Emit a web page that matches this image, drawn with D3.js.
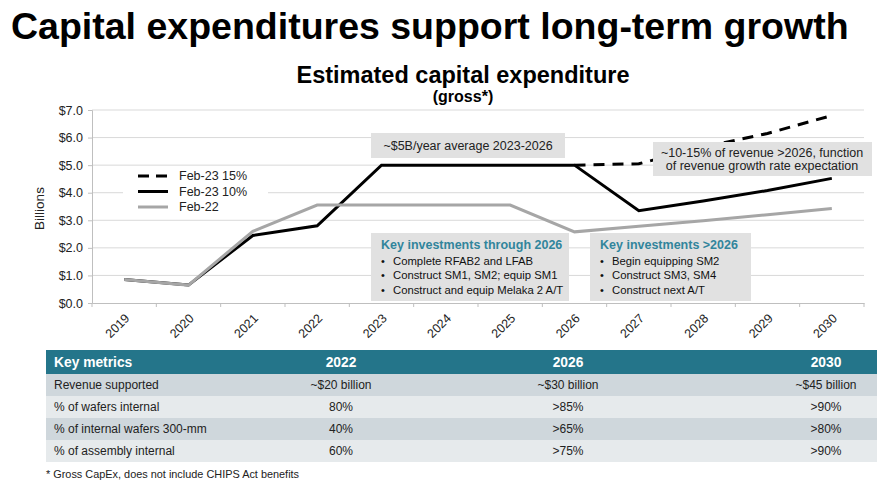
<!DOCTYPE html>
<html>
<head>
<meta charset="utf-8">
<script src="https://cdn.jsdelivr.net/npm/d3@7"></script>
<style>
  body { margin: 0; background: #fff; }
  text { font-family: "Liberation Sans", Arial, sans-serif; }
</style>
</head>
<body>
<div id="chart"></div>
<script>
// data
let years = ['2019', '2020', '2021', '2022', '2023', '2024', '2025', '2026', '2027', '2028', '2029', '2030'];
let feb23_15 = [null, null, null, null, null, null, null, 5.0, 5.05, 5.65, 6.15, 6.8];
let feb23_10 = [0.85, 0.65, 2.45, 2.8, 5.0, 5.0, 5.0, 5.0, 3.35, 3.7, 4.08, 4.52];
let feb22 = [0.85, 0.65, 2.6, 3.55, 3.55, 3.55, 3.55, 2.58, 2.78, 2.98, 3.2, 3.43];
let yTicks = [0, 1, 2, 3, 4, 5, 6, 7];

let tableHeader = ['Key metrics', '2022', '2026', '2030'];
let tableRows = [
  ['Revenue supported', '~$20 billion', '~$30 billion', '~$45 billion'],
  ['% of wafers internal', '80%', '>85%', '>90%'],
  ['% of internal wafers 300-mm', '40%', '>65%', '>80%'],
  ['% of assembly internal', '60%', '>75%', '>90%']
];
let investThrough = ['Complete RFAB2 and LFAB', 'Construct SM1, SM2; equip SM1', 'Construct and equip Melaka 2 A/T'];
let investAfter = ['Begin equipping SM2', 'Construct SM3, SM4', 'Construct next A/T'];

let svgWidth = 888;
let svgHeight = 480;

let margin = { top: 110, left: 92 };
let width = 772;
let height = 193;

let svg = d3.select('#chart')
  .append('svg')
  .attr('width', svgWidth)
  .attr('height', svgHeight);

// titles
svg.append('text')
  .attr('x', 11)
  .attr('y', 39)
  .attr('font-size', 37.5)
  .attr('font-weight', 700)
  .attr('fill', '#000')
  .text('Capital expenditures support long-term growth');

svg.append('text')
  .attr('x', 463)
  .attr('y', 83)
  .attr('text-anchor', 'middle')
  .attr('font-size', 23.5)
  .attr('font-weight', 700)
  .text('Estimated capital expenditure');

svg.append('text')
  .attr('x', 463)
  .attr('y', 102)
  .attr('text-anchor', 'middle')
  .attr('font-size', 16)
  .attr('font-weight', 700)
  .text('(gross*)');

let chartGroup = svg.append('g')
  .attr('transform', `translate(${margin.left}, ${margin.top})`);

let x = d3.scaleBand()
  .domain(years)
  .range([0, width]);

let y = d3.scaleLinear()
  .domain([0, 7])
  .range([height, 0]);

// gridlines
chartGroup.append('g')
  .selectAll('line')
  .data(yTicks.slice(1))
  .enter()
  .append('line')
  .attr('x1', 0)
  .attr('x2', width)
  .attr('y1', d => y(d))
  .attr('y2', d => y(d))
  .attr('stroke', '#d9d9d9')
  .attr('stroke-width', 1);

// y axis
let leftAxis = d3.axisLeft(y)
  .tickValues(yTicks)
  .tickFormat(d => '$' + d.toFixed(1))
  .tickSize(4)
  .tickPadding(5);

let yAxis = chartGroup.append('g').call(leftAxis);
yAxis.select('.domain').attr('stroke', '#bfbfbf');
yAxis.selectAll('.tick line').attr('stroke', '#bfbfbf');
yAxis.selectAll('text')
  .attr('font-size', 12.5)
  .attr('fill', '#222');

// x axis: labels at band centers, ticks at band edges
let bottomAxis = d3.axisBottom(x).tickSize(0);
let xAxis = chartGroup.append('g')
  .attr('transform', `translate(0,${height})`)
  .call(bottomAxis);
xAxis.select('.domain').attr('stroke', '#bfbfbf');
xAxis.selectAll('text')
  .attr('x', 0)
  .attr('y', 0)
  .attr('dy', '0.35em')
  .attr('text-anchor', 'end')
  .attr('transform', 'translate(3,13) rotate(-45)')
  .attr('font-size', 12.5)
  .attr('fill', '#222');

let edges = years.map(d => x(d)).concat([width]);
xAxis.selectAll('.edge')
  .data(edges)
  .enter()
  .append('line')
  .attr('x1', d => d)
  .attr('x2', d => d)
  .attr('y1', 0)
  .attr('y2', 4)
  .attr('stroke', '#bfbfbf');

chartGroup.append('text')
  .attr('transform', 'rotate(-90)')
  .attr('x', -(height / 2) - 2)
  .attr('y', -48)
  .attr('text-anchor', 'middle')
  .attr('font-size', 13.5)
  .attr('fill', '#222')
  .text('Billions');

// lines
let line = d3.line()
  .defined(d => d != null)
  .x((d, i) => x(years[i]) + x.bandwidth() / 2)
  .y(d => y(d));

chartGroup.append('path')
  .datum(feb23_15)
  .attr('d', line)
  .attr('fill', 'none')
  .attr('stroke', '#000')
  .attr('stroke-width', 3)
  .attr('stroke-dasharray', '11,8');

chartGroup.append('path')
  .datum(feb23_10)
  .attr('d', line)
  .attr('fill', 'none')
  .attr('stroke', '#000')
  .attr('stroke-width', 3);

chartGroup.append('path')
  .datum(feb22)
  .attr('d', line)
  .attr('fill', 'none')
  .attr('stroke', '#a6a6a6')
  .attr('stroke-width', 3);

// legend
let legend = svg.append('g');
legend.append('rect')
  .attr('x', 123)
  .attr('y', 168)
  .attr('width', 145)
  .attr('height', 46)
  .attr('fill', '#fff');

let legendItems = [
  { label: 'Feb-23 15%', color: '#000', dash: '11,7' },
  { label: 'Feb-23 10%', color: '#000', dash: null },
  { label: 'Feb-22', color: '#a6a6a6', dash: null }
];
legendItems.forEach(function(item, i) {
  let ly = 176 + i * 15.5;
  legend.append('line')
    .attr('x1', 138)
    .attr('x2', 168)
    .attr('y1', ly)
    .attr('y2', ly)
    .attr('stroke', item.color)
    .attr('stroke-width', 3)
    .attr('stroke-dasharray', item.dash);
  legend.append('text')
    .attr('x', 179)
    .attr('y', ly)
    .attr('dy', '0.35em')
    .attr('font-size', 12.5)
    .attr('fill', '#222')
    .text(item.label);
});

// annotation boxes
let boxFill = '#e1e1e1';

svg.append('rect')
  .attr('x', 371).attr('y', 133)
  .attr('width', 194).attr('height', 25)
  .attr('fill', boxFill);
svg.append('text')
  .attr('x', 468).attr('y', 146)
  .attr('dy', '0.35em')
  .attr('text-anchor', 'middle')
  .attr('font-size', 12.5)
  .attr('fill', '#222')
  .text('~$5B/year average 2023-2026');

svg.append('rect')
  .attr('x', 653).attr('y', 142)
  .attr('width', 219).attr('height', 34)
  .attr('fill', boxFill);
['~10-15% of revenue >2026, function', 'of revenue growth rate expectation'].forEach(function(t, i) {
  svg.append('text')
    .attr('x', 762).attr('y', 153 + i * 12.5)
    .attr('dy', '0.35em')
    .attr('text-anchor', 'middle')
    .attr('font-size', 12.5)
    .attr('fill', '#222')
    .text(t);
});

function investBox(bx, bw, title, items) {
  svg.append('rect')
    .attr('x', bx).attr('y', 233)
    .attr('width', bw).attr('height', 68)
    .attr('fill', boxFill);
  svg.append('text')
    .attr('x', bx + 10).attr('y', 245)
    .attr('dy', '0.35em')
    .attr('font-size', 12.5)
    .attr('font-weight', 700)
    .attr('fill', '#31859c')
    .text(title);
  items.forEach(function(t, i) {
    let ty = 261 + i * 14.5;
    svg.append('text')
      .attr('x', bx + 10).attr('y', ty)
      .attr('dy', '0.35em')
      .attr('font-size', 11)
      .attr('fill', '#111')
      .text('\u2022');
    svg.append('text')
      .attr('x', bx + 22).attr('y', ty)
      .attr('dy', '0.35em')
      .attr('font-size', 11.3)
      .attr('fill', '#111')
      .text(t);
  });
}
investBox(371, 198, 'Key investments through 2026', investThrough);
investBox(590, 161, 'Key investments >2026', investAfter);

// key metrics table
let tableX = 46;
let tableW = 831;
let colX = [54, 341, 568, 826];
let rowTops = [350, 374, 396, 418, 440, 462];
let rowFills = ['#cfd7dc', '#e6eaec'];

svg.append('rect')
  .attr('x', tableX).attr('y', rowTops[0])
  .attr('width', tableW).attr('height', rowTops[1] - rowTops[0])
  .attr('fill', '#24758a');

tableHeader.forEach(function(t, i) {
  svg.append('text')
    .attr('x', colX[i])
    .attr('y', (rowTops[0] + rowTops[1]) / 2)
    .attr('dy', '0.35em')
    .attr('text-anchor', i === 0 ? 'start' : 'middle')
    .attr('font-size', 13.8)
    .attr('font-weight', 700)
    .attr('fill', '#fff')
    .text(t);
});

tableRows.forEach(function(row, r) {
  svg.append('rect')
    .attr('x', tableX).attr('y', rowTops[r + 1])
    .attr('width', tableW).attr('height', rowTops[r + 2] - rowTops[r + 1])
    .attr('fill', rowFills[r % 2]);
  row.forEach(function(t, i) {
    svg.append('text')
      .attr('x', colX[i])
      .attr('y', (rowTops[r + 1] + rowTops[r + 2]) / 2)
      .attr('dy', '0.35em')
      .attr('text-anchor', i === 0 ? 'start' : 'middle')
      .attr('font-size', 12)
      .attr('fill', '#222')
      .text(t);
  });
});

svg.append('text')
  .attr('x', 46)
  .attr('y', 474)
  .attr('dy', '0.35em')
  .attr('font-size', 10.9)
  .attr('fill', '#222')
  .text('* Gross CapEx, does not include CHIPS Act benefits');
</script>
</body>
</html>
